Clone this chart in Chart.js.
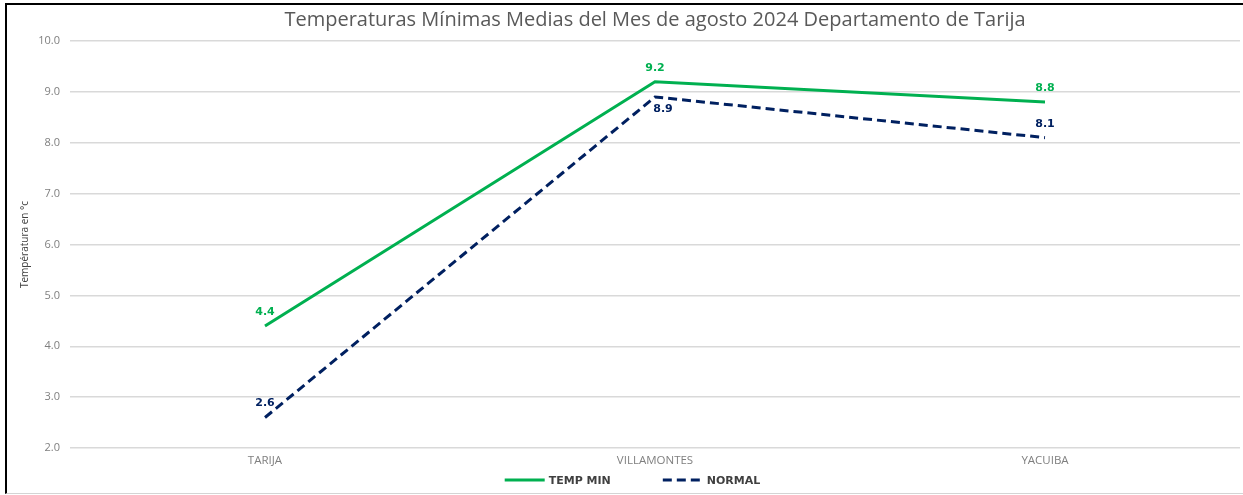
<!DOCTYPE html>
<html>
<head>
<meta charset="utf-8">
<script src="https://cdn.jsdelivr.net/npm/chart.js@4"></script>
<style>
    html, body { margin: 0; padding: 0; background: #fff; }
    #wrap { position: relative; width: 1243px; height: 495px; }
    #marco {
        position: absolute; left: 5px; top: 3px; right: 0; bottom: 1px;
        border-left: 2px solid #000; border-top: 2px solid #000; border-bottom: 1px solid #d4d4d4;
        pointer-events: none;
    }
</style>
</head>
<body>
<div id="wrap">
    <canvas id="grafico" width="1243" height="495"></canvas>
    <div id="marco"></div>
</div>
<script>
const estaciones = ['TARIJA', 'VILLAMONTES', 'YACUIBA'];
const tempMin = [4.4, 9.2, 8.8];
const normal = [2.6, 8.9, 8.1];
// donde va la etiqueta de cada punto: arriba o abajo
const posTempMin = ['top', 'top', 'top'];
const posNormal = ['top', 'bottom', 'top'];

const VERDE = '#00B050';
const AZUL = '#002060';

// etiquetas de datos sobre los puntos
const etiquetasPlugin = {
    id: 'etiquetas',
    afterDatasetsDraw(chart) {
        const ctx = chart.ctx;
        ctx.save();
        ctx.font = 'bold 11px "DejaVu Sans"';
        ctx.textAlign = 'center';
        ctx.textBaseline = 'middle';
        chart.data.datasets.forEach((ds, i) => {
            const meta = chart.getDatasetMeta(i);
            meta.data.forEach((pt, j) => {
                const abajo = ds.posiciones[j] === 'bottom';
                ctx.fillStyle = ds.borderColor;
                ctx.fillText(ds.data[j].toFixed(1), pt.x + (abajo ? 8 : 0), pt.y + (abajo ? 12 : -14));
            });
        });
        ctx.restore();
    }
};

// leyenda abajo con lineas largas
const leyendaPlugin = {
    id: 'leyenda',
    afterDraw(chart) {
        const ctx = chart.ctx;
        const y = 480;
        const largo = 40;
        const sep = 52;
        ctx.save();
        ctx.font = 'bold 11px "DejaVu Sans"';
        ctx.textBaseline = 'middle';
        const items = chart.data.datasets.map(ds => ({
            ds: ds,
            ancho: largo + 4 + ctx.measureText(ds.label).width
        }));
        const total = items.reduce((s, it) => s + it.ancho, 0) + sep * (items.length - 1);
        let x = chart.width / 2 + 11 - total / 2;
        items.forEach(it => {
            ctx.strokeStyle = it.ds.borderColor;
            ctx.lineWidth = 3;
            ctx.setLineDash(it.ds.borderDash || []);
            ctx.beginPath();
            ctx.moveTo(x, y);
            ctx.lineTo(x + largo, y);
            ctx.stroke();
            ctx.setLineDash([]);
            ctx.fillStyle = '#404040';
            ctx.fillText(it.ds.label, x + largo + 4, y + 1);
            x += it.ancho + sep;
        });
        ctx.restore();
    }
};

const ctx = document.getElementById('grafico').getContext('2d');
new Chart(ctx, {
    type: 'line',
    data: {
        labels: estaciones,
        datasets: [
            {
                label: 'TEMP MIN',
                data: tempMin,
                borderColor: VERDE,
                backgroundColor: VERDE,
                borderWidth: 3,
                pointRadius: 0,
                tension: 0,
                posiciones: posTempMin
            },
            {
                label: 'NORMAL',
                data: normal,
                borderColor: AZUL,
                backgroundColor: AZUL,
                borderWidth: 3,
                borderDash: [9, 5],
                pointRadius: 0,
                tension: 0,
                posiciones: posNormal
            }
        ]
    },
    options: {
        responsive: false,
        animation: false,
        layout: { padding: { left: 0, right: 3, top: 0, bottom: 27 } },
        plugins: {
            legend: { display: false },
            tooltip: { enabled: false },
            title: {
                display: true,
                fullSize: false,
                text: 'Temperaturas Mínimas Medias del Mes de agosto 2024 Departamento de Tarija',
                color: '#595959',
                font: { family: '"Open Sans"', size: 20, weight: 'normal' },
                padding: { top: 8, bottom: 9 }
            }
        },
        scales: {
            x: {
                offset: true,
                afterFit(scale) { scale.height = 20; },
                grid: { display: false, drawTicks: false },
                border: { display: false },
                ticks: {
                    color: '#7F7F7F',
                    font: { family: '"Open Sans"', size: 11.5 },
                    padding: 6
                }
            },
            y: {
                min: 2,
                max: 10,
                afterFit(scale) { scale.width = 70; },
                grid: { color: '#D9D9D9', lineWidth: 1.5, drawTicks: false },
                border: { display: false },
                ticks: {
                    stepSize: 1,
                    color: '#7F7F7F',
                    font: { family: '"Open Sans"', size: 11 },
                    padding: 10,
                    callback: v => v.toFixed(1)
                },
                title: {
                    display: true,
                    text: 'Températura en °c',
                    color: '#404040',
                    font: { family: '"Open Sans"', size: 10 },
                    padding: { top: 19, bottom: 0 }
                }
            }
        }
    },
    plugins: [etiquetasPlugin, leyendaPlugin]
});
</script>
</body>
</html>
